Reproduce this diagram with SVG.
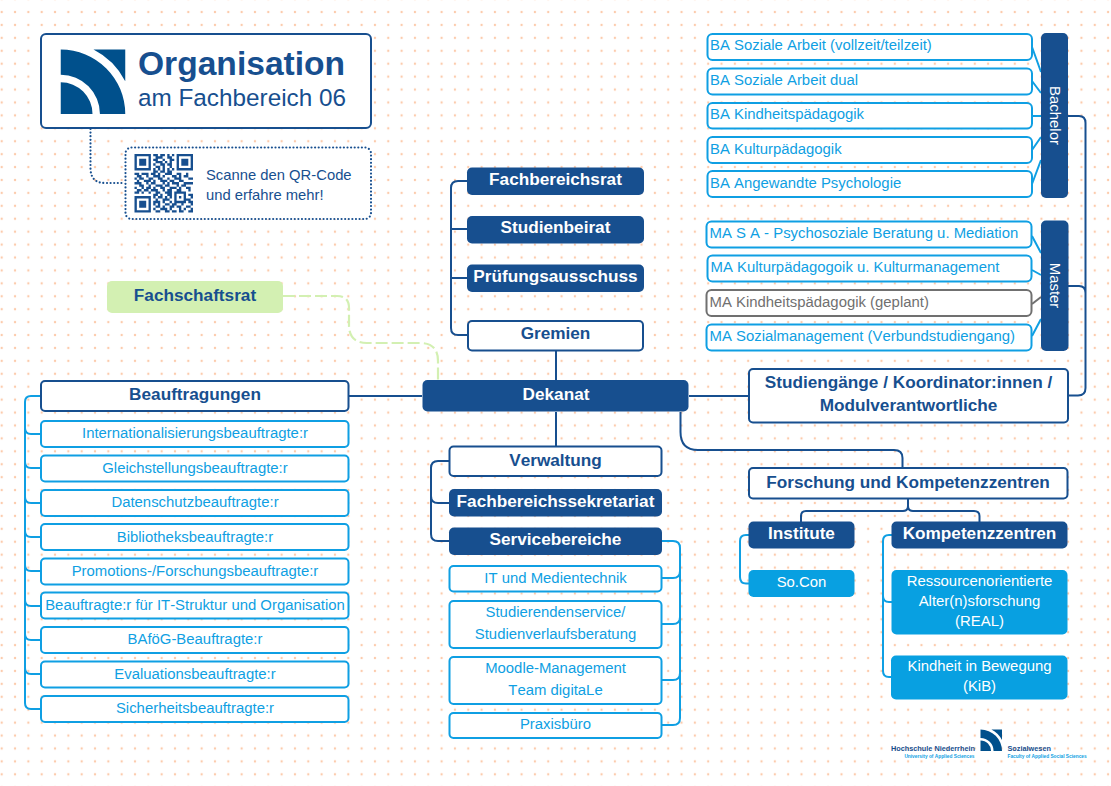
<svg xmlns="http://www.w3.org/2000/svg" width="1111" height="786" viewBox="0 0 1111 786">
<style>
text{font-family:"Liberation Sans",Arial,sans-serif;font-kerning:none}
.w{fill:#fff;stroke:#174f8f;stroke-width:2}
.d{fill:#174f8f;stroke:none}
.l{fill:#fff;stroke:#0f9fe3;stroke-width:2}
.f{fill:#08a0e1;stroke:none}
.g{fill:#fff;stroke:#707070;stroke-width:2}
.hb{font-size:17.2px;font-weight:700;fill:#174f8f;text-anchor:middle}
.hw{font-size:17.2px;font-weight:700;fill:#fff;text-anchor:middle}
.lc{font-size:14.9px;fill:#0f9fe3;text-anchor:middle}
.ll{font-size:14.9px;fill:#0f9fe3}
.fw{font-size:14.9px;fill:#fff;text-anchor:middle}
.rw{font-size:14.9px;fill:#fff;text-anchor:middle}
.cd{fill:none;stroke:#174f8f;stroke-width:2}
.cl{fill:none;stroke:#0f9fe3;stroke-width:2}
</style>
<defs>
<pattern id="dots" x="1.7" y="-0.9" width="13.33" height="12.92" patternUnits="userSpaceOnUse">
<circle cx="0" cy="0" r="1.2" fill="#fccbac"/><circle cx="13.33" cy="0" r="1.2" fill="#fccbac"/><circle cx="0" cy="12.92" r="1.2" fill="#fccbac"/><circle cx="13.33" cy="12.92" r="1.2" fill="#fccbac"/>
</pattern>
<symbol id="logo" viewBox="0 0 65 65" overflow="visible">
<path fill="#00508c" d="M33 0H65V32A73 73 0 0 0 33 0ZM0 0A65 65 0 0 1 65 65H39.500A39.500 39.500 0 0 0 0 25.500ZM0 33A32 32 0 0 1 32 65H0Z"/>
</symbol>
</defs>
<rect width="1111" height="786" fill="#fff"/>
<rect width="1111" height="786" fill="url(#dots)"/>

<g id="connectors">
<path d="M90.5 129V168Q90.5 183 105 183H125" fill="none" stroke="#174f8f" stroke-width="2.200" stroke-linecap="round" stroke-dasharray="0 3.6"/>
<path d="M283 296H337Q349 296 349 308V325Q349 343 367 343H420Q438 343 438 361V380" fill="none" stroke="#d3f0b2" stroke-width="2.200" stroke-dasharray="12 4"/>
<path class="cd" d="M349 396H422M689 396H749M556 351V380M556 412V447"/>
<path class="cd" d="M467 181H458Q451 181 451 188V328Q451 335 458 335H468M451 229H467M451 278H467"/>
<path class="cd" d="M449 461H438Q431 461 431 468V534Q431 541 438 541H449M431 496Q431 503 438 503H449"/>
<path class="cd" d="M1068 116H1079Q1085.500 116 1085.500 123V388Q1085.500 395.500 1078 395.500H1068M1068 286H1079Q1085.500 286 1085.500 293"/>
<path class="cd" d="M680.500 412V432Q680.500 450 698 450H894Q902.500 450 902.500 458V468"/>
<path class="cd" d="M908 499V506Q908 511 903 511H806Q801 511 801 516V522M908 506Q908 511 913 511H974Q979.500 511 979.500 516V522"/>
<path class="cl" d="M41 396H31Q25 396 25 402V703Q25 709 31 709H41M25 428Q25 434 31 434H41M25 462Q25 468 31 468H41M25 497Q25 503 31 503H41M25 531Q25 537 31 537H41M25 565Q25 571 31 571H41M25 600Q25 606 31 606H41M25 634Q25 640 31 640H41M25 668Q25 674 31 674H41"/>
<path class="cl" d="M662 541H673Q680 541 680 548V718Q680 725 673 725H662M680 571Q680 578 673 578H662M680 617Q680 624 673 624H662M680 673Q680 680 673 680H662"/>
<path class="cl" d="M749 535H746Q740 535 740 541V577Q740 583.500 746 583.500H749"/>
<path class="cl" d="M892 535H889Q883 535 883 541V671Q883 677 889 677H892M883 596Q883 602 889 602H892"/>
<path class="cl" d="M1032 47L1041 72M1032 81L1041 93M1032 116H1041M1032 150L1041 137M1032 184L1041 160M1032 236L1041 253M1032 270L1041 275M1032 336L1041 319"/>
<path fill="none" stroke="#707070" stroke-width="2" d="M1032 304L1041 297"/>
</g>

<g id="title">
<rect class="w" x="41" y="34" width="330" height="94" rx="5"/>
<use href="#logo" x="60.500" y="49.500" width="65" height="64.500"/>
<text x="138" y="75" font-size="33.600" font-weight="700" fill="#174f8f">Organisation</text>
<text x="138" y="106" font-size="24.300" fill="#174f8f">am Fachbereich 06</text>
</g>

<g id="qr">
<rect x="125.500" y="147.500" width="245.500" height="71.500" rx="6" fill="#fff" stroke="#174f8f" stroke-width="2.200" stroke-linecap="round" stroke-dasharray="0 3.6"/>
<g transform="translate(134.500 154) scale(2.34)">
<path fill="#174f8f" fill-rule="evenodd" d="M0 0h7v7h-7zM1 1v5h5v-5zM2 2h3v3h-3zM18 0h7v7h-7zM19 1v5h5v-5zM20 2h3v3h-3zM0 18h7v7h-7zM1 19v5h5v-5zM2 20h3v3h-3z"/>
<path fill="none" stroke="#174f8f" stroke-width="1" d="M8 .5h2M11 .5h2M14 .5h1M16 .5h1M9 1.500h3M14 1.500h2M8 2.500h2M12 2.500h1M15 2.500h2M9 3.500h3M13 3.500h1M15 3.500h1M8 4.500h1M11 4.500h2M14 4.500h2M9 5.500h2M12 5.500h1M15 5.500h1M8 6.500h1M10 6.500h1M12 6.500h1M14 6.500h1M16 6.500h1M8 7.500h2M11 7.500h2M14 7.500h2M0 8.500h2M3 8.500h3M7 8.500h2M10 8.500h1M13 8.500h3M18 8.500h2M22 8.500h1M1 9.500h2M5 9.500h1M8 9.500h3M12 9.500h1M16 9.500h2M19 9.500h1M21 9.500h2M0 10.500h1M2 10.500h2M6 10.500h2M10 10.500h2M14 10.500h1M17 10.500h3M23 10.500h2M1 11.500h1M4 11.500h3M8 11.500h1M11 11.500h3M15 11.500h2M19 11.500h2M0 12.500h3M5 12.500h1M7 12.500h2M12 12.500h1M14 12.500h1M16 12.500h3M21 12.500h4M2 13.500h2M6 13.500h1M9 13.500h3M13 13.500h2M18 13.500h1M20 13.500h2M0 14.500h1M3 14.500h1M5 14.500h2M8 14.500h1M11 14.500h2M15 14.500h3M19 14.500h1M22 14.500h2M1 15.500h2M4 15.500h2M7 15.500h3M12 15.500h1M14 15.500h2M18 15.500h2M23 15.500h1M0 16.500h2M3 16.500h1M6 16.500h1M9 16.500h2M13 16.500h3M17 16.500h5M8 17.500h2M11 17.500h1M14 17.500h2M17 17.500h1M21 17.500h1M23 17.500h2M8 18.500h1M10 18.500h2M13 18.500h1M15 18.500h1M17 18.500h1M19 18.500h1M21 18.500h1M24 18.500h1M9 19.500h1M12 19.500h3M17 19.500h1M21 19.500h3M8 20.500h3M12 20.500h1M15 20.500h1M17 20.500h5M23 20.500h2M8 21.500h1M10 21.500h1M13 21.500h2M16 21.500h2M20 21.500h1M24 21.500h1M9 22.500h2M12 22.500h1M15 22.500h2M18 22.500h2M22 22.500h2M8 23.500h1M11 23.500h3M15 23.500h1M19 23.500h1M21 23.500h1M24 23.500h1M9 24.500h2M13 24.500h2M16 24.500h2M19 24.500h2M23 24.500h2"/>
</g>
<text x="206" y="179.500" font-size="14.800" fill="#174f8f">Scanne den QR-Code</text>
<text x="206" y="199.500" font-size="14.800" fill="#174f8f">und erfahre mehr!</text>
</g>

<g id="fachbereichsrat"><rect class="d" x="467" y="167.500" width="177" height="27.500" rx="5"/><text class="hw" x="555.500" y="185">Fachbereichsrat</text></g>
<g id="studienbeirat"><rect class="d" x="467" y="216" width="177" height="27.500" rx="5"/><text class="hw" x="555.500" y="233">Studienbeirat</text></g>
<g id="pruefungsausschuss"><rect class="d" x="467" y="264.500" width="177" height="27.500" rx="5"/><text class="hw" x="555.500" y="282">Prüfungsausschuss</text></g>
<g id="gremien"><rect class="w" x="468" y="321" width="175" height="29.500" rx="4"/><text class="hb" x="555.500" y="339">Gremien</text></g>
<g id="fachschaftsrat"><rect x="107" y="281" width="176" height="32" rx="5" fill="#d3f0b2"/><text class="hb" x="195" y="301">Fachschaftsrat</text></g>
<g id="dekanat"><rect class="d" x="422.500" y="380" width="266" height="31.500" rx="5"/><text class="hw" x="556" y="400">Dekanat</text></g>

<g id="beauftragungen"><rect class="w" x="41" y="381" width="307.500" height="30" rx="4"/><text class="hb" x="195" y="400">Beauftragungen</text></g>
<g id="b1"><rect class="l" x="41" y="421" width="307.500" height="26" rx="4"/><text class="lc" x="195" y="438">Internationalisierungsbeauftragte:r</text></g>
<g id="b2"><rect class="l" x="41" y="455.500" width="307.500" height="26" rx="4"/><text class="lc" x="195" y="472.500">Gleichstellungsbeauftragte:r</text></g>
<g id="b3"><rect class="l" x="41" y="490" width="307.500" height="26" rx="4"/><text class="lc" x="195" y="507">Datenschutzbeauftragte:r</text></g>
<g id="b4"><rect class="l" x="41" y="524" width="307.500" height="26" rx="4"/><text class="lc" x="195" y="541.500">Bibliotheksbeauftragte:r</text></g>
<g id="b5"><rect class="l" x="41" y="558.500" width="307.500" height="26" rx="4"/><text class="lc" x="195" y="575.500">Promotions-/Forschungsbeauftragte:r</text></g>
<g id="b6"><rect class="l" x="41" y="592.500" width="307.500" height="26" rx="4"/><text class="lc" x="195" y="610">Beauftragte:r für IT-Struktur und Organisation</text></g>
<g id="b7"><rect class="l" x="41" y="627" width="307.500" height="26" rx="4"/><text class="lc" x="195" y="644">BAföG-Beauftragte:r</text></g>
<g id="b8"><rect class="l" x="41" y="661.500" width="307.500" height="26" rx="4"/><text class="lc" x="195" y="678.500">Evaluationsbeauftragte:r</text></g>
<g id="b9"><rect class="l" x="41" y="696" width="307.500" height="26" rx="4"/><text class="lc" x="195" y="713">Sicherheitsbeauftragte:r</text></g>

<g id="verwaltung"><rect class="w" x="449.500" y="446.500" width="212" height="29.500" rx="4"/><text class="hb" x="555.500" y="465.500">Verwaltung</text></g>
<g id="sekretariat"><rect class="d" x="449" y="489" width="213" height="27.500" rx="5"/><text class="hw" x="555.500" y="506.500">Fachbereichssekretariat</text></g>
<g id="servicebereiche"><rect class="d" x="449" y="527.500" width="213" height="27.500" rx="5"/><text class="hw" x="555.500" y="545">Servicebereiche</text></g>
<g id="s1"><rect class="l" x="449.500" y="566" width="212" height="25.500" rx="4"/><text class="lc" x="555.500" y="583">IT und Medientechnik</text></g>
<g id="s2"><rect class="l" x="449.500" y="601" width="212" height="47" rx="4"/><text class="lc" x="555.500" y="617">Studierendenservice/</text><text class="lc" x="555.500" y="639">Studienverlaufsberatung</text></g>
<g id="s3"><rect class="l" x="449.500" y="657" width="212" height="47" rx="4"/><text class="lc" x="555.500" y="673">Moodle-Management</text><text class="lc" x="555.500" y="695">Team digitaLe</text></g>
<g id="s4"><rect class="l" x="449.500" y="713" width="212" height="25" rx="4"/><text class="lc" x="555.500" y="729">Praxisbüro</text></g>

<g id="ba1"><rect class="l" x="707.500" y="34" width="324.500" height="26" rx="5"/><text class="ll" x="710" y="50">BA Soziale Arbeit (vollzeit/teilzeit)</text></g>
<g id="ba2"><rect class="l" x="707.500" y="68.500" width="324.500" height="26" rx="5"/><text class="ll" x="710" y="85">BA Soziale Arbeit dual</text></g>
<g id="ba3"><rect class="l" x="707.500" y="103" width="324.500" height="25.500" rx="5"/><text class="ll" x="710" y="119">BA Kindheitspädagogik</text></g>
<g id="ba4"><rect class="l" x="707.500" y="137" width="324.500" height="26" rx="5"/><text class="ll" x="710" y="153.500">BA Kulturpädagogik</text></g>
<g id="ba5"><rect class="l" x="707.500" y="171" width="324.500" height="26" rx="5"/><text class="ll" x="710" y="188">BA Angewandte Psychologie</text></g>
<g id="bachelor"><rect class="d" x="1041" y="33" width="27" height="165" rx="5"/><text class="rw" transform="translate(1050 115.500) rotate(90)">Bachelor</text></g>

<g id="ma1"><rect class="l" x="706.500" y="221.500" width="325" height="26" rx="5"/><text class="ll" x="709.500" y="238">MA S A - Psychosoziale Beratung u. Mediation</text></g>
<g id="ma2"><rect class="l" x="707.500" y="255.500" width="324" height="26" rx="5"/><text class="ll" x="710.500" y="272">MA Kulturpädagogoik u. Kulturmanagement</text></g>
<g id="ma3"><rect class="g" x="706.500" y="290" width="325" height="26" rx="5"/><text class="ll" x="709.500" y="307" style="fill:#707070">MA Kindheitspädagogik (geplant)</text></g>
<g id="ma4"><rect class="l" x="706.500" y="324.500" width="325" height="26" rx="5"/><text class="ll" x="709.500" y="341">MA Sozialmanagement (Verbundstudiengang)</text></g>
<g id="master"><rect class="d" x="1041" y="220.500" width="27.500" height="130.500" rx="5"/><text class="rw" transform="translate(1050 285.500) rotate(90)">Master</text></g>

<g id="studiengaenge"><rect class="w" x="749" y="369" width="319" height="53.500" rx="4"/><text class="hb" x="908.500" y="388">Studiengänge / Koordinator:innen /</text><text class="hb" x="908.500" y="411">Modulverantwortliche</text></g>
<g id="forschung"><rect class="w" x="749" y="468" width="318.500" height="30.500" rx="4"/><text class="hb" x="908" y="488">Forschung und Kompetenzzentren</text></g>
<g id="institute"><rect class="d" x="748.500" y="521.500" width="106" height="27" rx="5"/><text class="hw" x="801.500" y="539">Institute</text></g>
<g id="socon"><rect class="f" x="748.500" y="570" width="106" height="27" rx="5"/><text class="fw" x="801.500" y="587">So.Con</text></g>
<g id="kompetenz"><rect class="d" x="891.500" y="521.500" width="176" height="27" rx="5"/><text class="hw" x="979.500" y="539">Kompetenzzentren</text></g>
<g id="real"><rect class="f" x="891.500" y="570" width="176" height="64.500" rx="5"/><text class="fw" x="979.500" y="586">Ressourcenorientierte</text><text class="fw" x="979.500" y="606">Alter(n)sforschung</text><text class="fw" x="979.500" y="626">(REAL)</text></g>
<g id="kib"><rect class="f" x="891" y="655.500" width="176.500" height="44" rx="5"/><text class="fw" x="979.500" y="671">Kindheit in Bewegung</text><text class="fw" x="979.500" y="691">(KiB)</text></g>

<g id="footer">
<use href="#logo" x="980.500" y="729.500" width="21.500" height="21.500"/>
<text x="891" y="750.500" font-size="7.300" font-weight="700" fill="#174f8f">Hochschule Niederrhein</text>
<text x="974.500" y="758" font-size="4.800" font-weight="700" fill="#0f9fe3" text-anchor="end">University of Applied Sciences</text>
<text x="1007.500" y="750.500" font-size="7.300" font-weight="700" fill="#174f8f">Sozialwesen</text>
<text x="1007.500" y="758" font-size="4.800" font-weight="700" fill="#0f9fe3">Faculty of Applied Social Sciences</text>
</g>
</svg>
